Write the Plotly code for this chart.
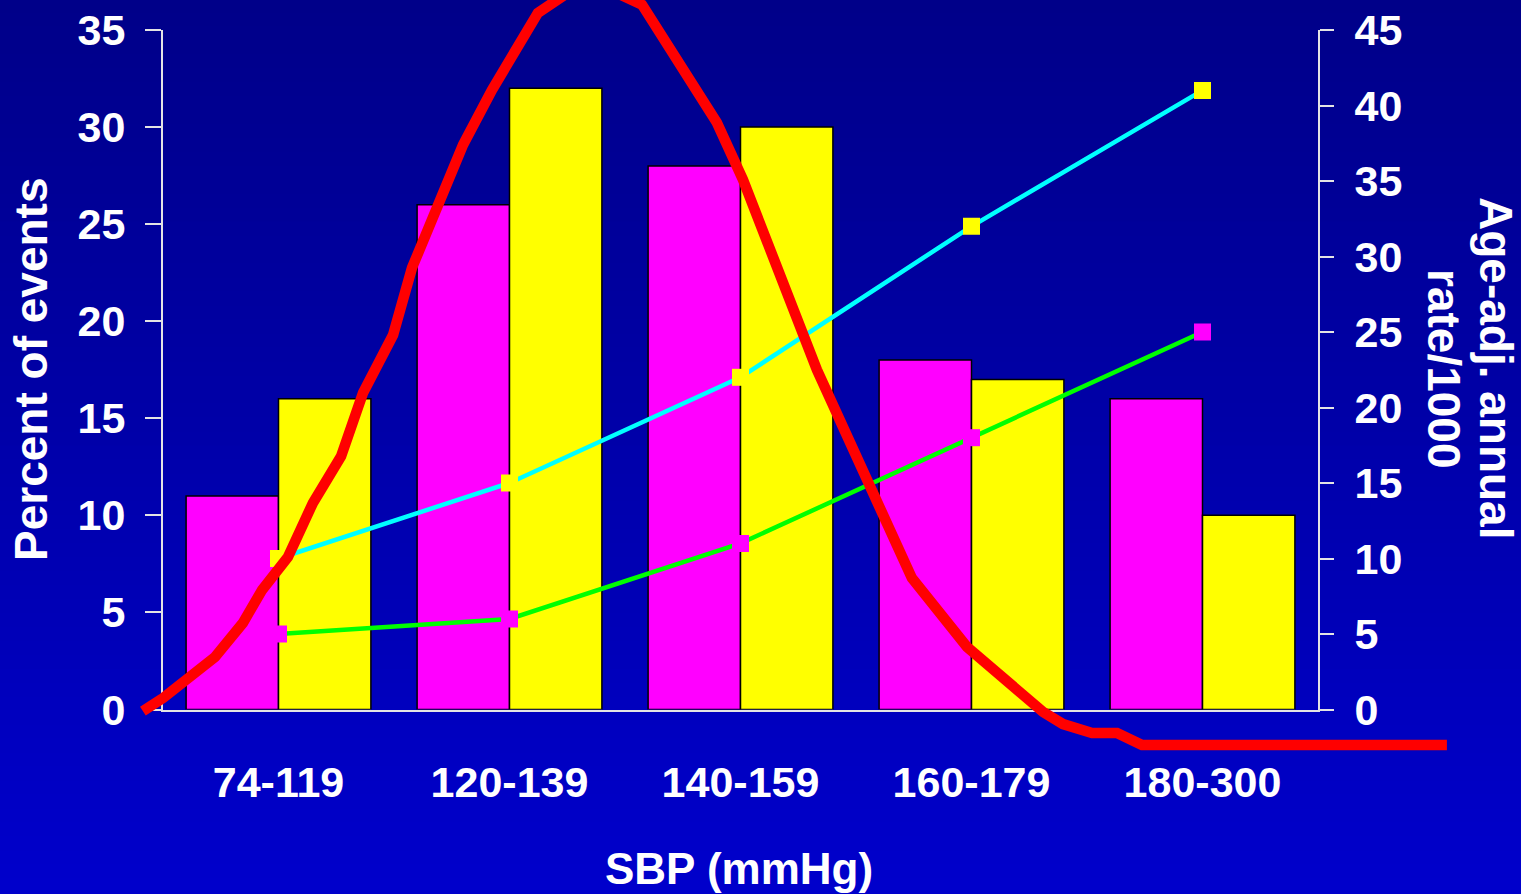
import plotly.graph_objects as go

# ---------------- data ----------------
categories = ["74-119", "120-139", "140-159", "160-179", "180-300"]
pct_events_a = [11, 26, 28, 18, 16]      # magenta bars (left axis, %)
pct_events_b = [16, 32, 30, 17, 10]      # yellow bars (left axis, %)
rate_a = [5, 6, 11, 18, 25]              # green line, magenta markers (right axis)
rate_b = [10, 15, 22, 32, 41]            # cyan line, yellow markers (right axis)

# SBP distribution curve, in category-axis units (x) and left-axis units (y)
dist_x = [-0.587, -0.5, -0.275, -0.154, -0.071, 0.041, 0.149, 0.271, 0.366,
          0.496, 0.578, 0.799, 0.924, 1.123, 1.284, 1.435, 1.574, 1.898,
          2.011, 2.258, 2.331, 2.742, 2.981, 3.310, 3.396, 3.522, 3.630,
          3.738, 5.058]
dist_y = [-0.08, 0.59, 2.70, 4.46, 6.16, 7.86, 10.64, 13.05, 16.31,
          19.29, 22.75, 29.09, 31.91, 35.88, 37.17, 37.07, 36.30, 30.22,
          27.28, 19.71, 17.49, 6.77, 3.22, -0.13, -0.75, -1.21, -1.21,
          -1.83, -1.83]

left_ticks = [0, 5, 10, 15, 20, 25, 30, 35]
right_ticks = [0, 5, 10, 15, 20, 25, 30, 35, 40, 45]

# ---------------- layout geometry ----------------
W, H = 1521, 894


def fx(px):
    return px / W


def fy(py):
    return (H - py) / H


xd = [fx(163), fx(1318)]
yd = [fy(709.5), fy(30)]
xr = [-0.5, 4.5]
yr = [0, 35]
ux = (xr[1] - xr[0]) / (xd[1] - xd[0])
uy = (yr[1] - yr[0]) / (yd[1] - yd[0])
x3r = [xr[0] - xd[0] * ux, xr[1] + (1 - xd[1]) * ux]
y3r = [yr[0] - yd[0] * uy, yr[1] + (1 - yd[1]) * uy]

FONT = "Liberation Sans, Arial, sans-serif"
tickfont = dict(family=FONT, size=43, color="white", weight="bold")
titlefont = dict(family=FONT, size=46, color="white", weight="bold")
xtitlefont = dict(family=FONT, size=44, color="white", weight="bold")
axcol = "#e4e4e4"

fig = go.Figure()
fig.add_trace(go.Bar(x=categories, y=pct_events_a, marker=dict(color="#FF00FF", line=dict(color="black", width=1.5)),
                     xaxis="x", yaxis="y", showlegend=False))
fig.add_trace(go.Bar(x=categories, y=pct_events_b, marker=dict(color="#FFFF00", line=dict(color="black", width=1.5)),
                     xaxis="x", yaxis="y", showlegend=False))
fig.add_trace(go.Scatter(x=categories, y=rate_b, mode="lines+markers",
                         line=dict(color="#00FFFF", width=4.5),
                         marker=dict(symbol="square", size=17, color="#FFFF00"),
                         xaxis="x", yaxis="y2", showlegend=False))
fig.add_trace(go.Scatter(x=categories, y=rate_a, mode="lines+markers",
                         line=dict(color="#00FF00", width=4.5),
                         marker=dict(symbol="square", size=17, color="#FF00FF"),
                         xaxis="x", yaxis="y2", showlegend=False))
fig.add_trace(go.Scatter(x=dist_x, y=dist_y, mode="lines",
                         line=dict(color="#FF0000", width=10.5),
                         xaxis="x3", yaxis="y3", showlegend=False))

# background gradient
N = 64
shapes = []
c0, c1 = 136, 204
for i in range(N):
    t = (i + 0.5) / N  # 0 at top
    b = round(c0 + (c1 - c0) * t)
    shapes.append(dict(type="rect", xref="paper", yref="paper", x0=0, x1=1,
                       y0=1 - (i + 1) / N, y1=1 - i / N + 0.002,
                       fillcolor=f"rgb(0,0,{b})", line=dict(width=0), layer="below"))

fig.update_layout(
    width=W, height=H,
    margin=dict(l=0, r=0, t=0, b=0),
    paper_bgcolor="#0000AA",
    plot_bgcolor="rgba(0,0,0,0)",
    barmode="group", bargap=0.2, bargroupgap=0,
    shapes=shapes,
    xaxis=dict(domain=xd, range=xr, type="category", categoryorder="array", categoryarray=categories,
               showline=True, linecolor=axcol, linewidth=2, ticks="", showgrid=False, zeroline=False,
               tickfont=tickfont, ticklabelstandoff=34, fixedrange=True, automargin=False,
               ticklabeloverflow="allow"),
    yaxis=dict(domain=yd, range=yr, tickvals=left_ticks, ticks="outside", ticklen=16, tickwidth=2,
               tickcolor=axcol, showline=True, linecolor=axcol, linewidth=2, showgrid=False,
               zeroline=False, tickfont=tickfont, ticklabelstandoff=11, fixedrange=True, automargin=False,
               ticklabeloverflow="allow"),
    yaxis2=dict(overlaying="y", side="right", anchor="x", range=[0, 45], tickvals=right_ticks,
                ticks="outside", ticklen=14, tickwidth=2, tickcolor=axcol, showline=True,
                linecolor=axcol, linewidth=2, showgrid=False, zeroline=False, tickfont=tickfont,
                ticklabelstandoff=12, fixedrange=True, automargin=False, ticklabeloverflow="allow"),
    xaxis3=dict(domain=[0, 1], range=x3r, visible=False, anchor="y3", fixedrange=True),
    yaxis3=dict(domain=[0, 1], range=y3r, visible=False, anchor="x3", fixedrange=True),
    annotations=[
        dict(text="Percent of events", xref="paper", yref="paper", x=fx(31), y=fy(370),
             xanchor="center", yanchor="middle", textangle=-90, showarrow=False, font=titlefont),
        dict(text="SBP (mmHg)", xref="paper", yref="paper", x=fx(739), y=fy(868),
             xanchor="center", yanchor="middle", showarrow=False, font=xtitlefont),
        dict(text="Age-adj. annual", xref="paper", yref="paper", x=fx(1496), y=fy(368),
             xanchor="center", yanchor="middle", textangle=90, showarrow=False, font=titlefont),
        dict(text="rate/1000", xref="paper", yref="paper", x=fx(1444), y=fy(369),
             xanchor="center", yanchor="middle", textangle=90, showarrow=False, font=titlefont),
    ],
)

fig.write_html("out.html", config={"displayModeBar": False},
               post_script="document.body.style.margin='0';document.body.style.overflow='hidden';")
